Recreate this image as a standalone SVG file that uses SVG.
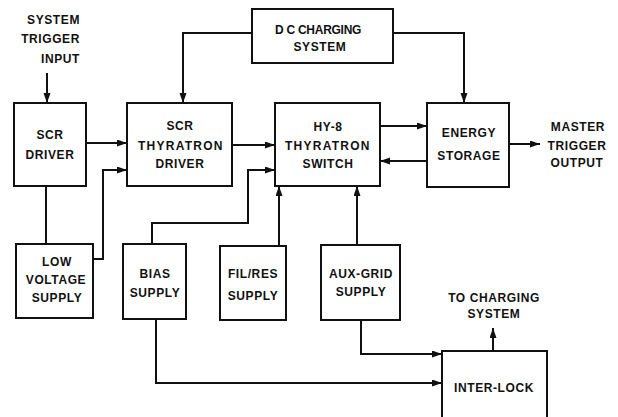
<svg xmlns="http://www.w3.org/2000/svg" width="618" height="417" viewBox="0 0 618 417">
<style>
.box{fill:#fff;stroke:#111;stroke-width:2}
.t{font-family:"Liberation Sans",Arial,sans-serif;font-weight:bold;font-size:12px;letter-spacing:0.6px;fill:#111;text-anchor:middle}
.w{fill:none;stroke:#111;stroke-width:2}
.a{marker-end:url(#ah)}
</style>
<defs>
<marker id="ah" markerUnits="userSpaceOnUse" markerWidth="10" markerHeight="8" refX="10" refY="3.5" orient="auto">
<path d="M0,0 L10,3.5 L0,7 z" fill="#111"/>
</marker>
</defs>
<rect width="618" height="417" fill="#fff"/>
<g id="connectors">
<path class="w a" d="M47,73 V103"/>
<path class="w a" d="M86,143 H127"/>
<path class="w" d="M46,186 V244"/>
<path class="w a" d="M93,259 H103 V170 H127"/>
<path class="w a" d="M252,33 H183 V103"/>
<path class="w a" d="M393,33 H464 V103"/>
<path class="w a" d="M232,145 H275"/>
<path class="w a" d="M152,244 V223 H248 V170 H275"/>
<path class="w a" d="M279,246 V186"/>
<path class="w a" d="M357,245 V186"/>
<path class="w a" d="M380,126 H427"/>
<path class="w a" d="M427,161 H380"/>
<path class="w a" d="M509,144 H540"/>
<path class="w a" d="M156,319 V383 H442"/>
<path class="w a" d="M361,320 V354 H442"/>
<path class="w a" d="M493,351 V328"/>
</g>
<g id="trigger-input">
<text class="t" style="text-anchor:end" x="80" y="23.5">SYSTEM</text>
<text class="t" style="text-anchor:end" x="80" y="42.5">TRIGGER</text>
<text class="t" style="text-anchor:end" x="80" y="62.5">INPUT</text>
</g>
<g id="scr-driver">
<rect class="box" x="14" y="103" width="72" height="83"/>
<text class="t" x="50" y="139.3">SCR</text>
<text class="t" x="50" y="159.3">DRIVER</text>
</g>
<g id="scr-thyratron-driver">
<rect class="box" x="127" y="103" width="105" height="83"/>
<text class="t" x="180" y="130.3">SCR</text>
<text class="t" x="138" y="150.3" style="text-anchor:start" textLength="85" lengthAdjust="spacing">THYRATRON</text>
<text class="t" x="180" y="168.3">DRIVER</text>
</g>
<g id="dc-charging">
<rect class="box" x="252" y="9" width="141" height="54"/>
<text class="t" x="275" y="34.3" style="text-anchor:start" textLength="87" lengthAdjust="spacing">D C CHARGING</text>
<text class="t" x="320" y="51.3">SYSTEM</text>
</g>
<g id="hy8-switch">
<rect class="box" x="275" y="103" width="105" height="83"/>
<text class="t" x="328" y="131.3">HY-8</text>
<text class="t" x="285" y="150.3" style="text-anchor:start" textLength="85" lengthAdjust="spacing">THYRATRON</text>
<text class="t" x="328" y="168.3">SWITCH</text>
</g>
<g id="energy-storage">
<rect class="box" x="427" y="103" width="82" height="84"/>
<text class="t" x="469" y="137.3">ENERGY</text>
<text class="t" x="469" y="160.3">STORAGE</text>
</g>
<g id="master-trigger-output">
<text class="t" x="578" y="131.3">MASTER</text>
<text class="t" x="577" y="150.3">TRIGGER</text>
<text class="t" x="577" y="167.3">OUTPUT</text>
</g>
<g id="low-voltage-supply">
<rect class="box" x="16" y="244" width="77" height="74"/>
<text class="t" x="57" y="266.3">LOW</text>
<text class="t" x="56" y="284.3">VOLTAGE</text>
<text class="t" x="57" y="302.3">SUPPLY</text>
</g>
<g id="bias-supply">
<rect class="box" x="123" y="244" width="63" height="75"/>
<text class="t" x="155" y="278.3">BIAS</text>
<text class="t" x="155" y="297.3">SUPPLY</text>
</g>
<g id="fil-res-supply">
<rect class="box" x="220" y="246" width="66" height="74"/>
<text class="t" x="253" y="278.3">FIL/RES</text>
<text class="t" x="253" y="300.3">SUPPLY</text>
</g>
<g id="aux-grid-supply">
<rect class="box" x="321" y="245" width="79" height="75"/>
<text class="t" x="361" y="278.3">AUX-GRID</text>
<text class="t" x="361" y="296.3">SUPPLY</text>
</g>
<g id="to-charging-system">
<text class="t" x="494" y="302.3">TO CHARGING</text>
<text class="t" x="494" y="318.3">SYSTEM</text>
</g>
<g id="inter-lock">
<rect class="box" x="442" y="351" width="105" height="80"/>
<text class="t" x="494" y="392.3">INTER-LOCK</text>
</g>
</svg>
